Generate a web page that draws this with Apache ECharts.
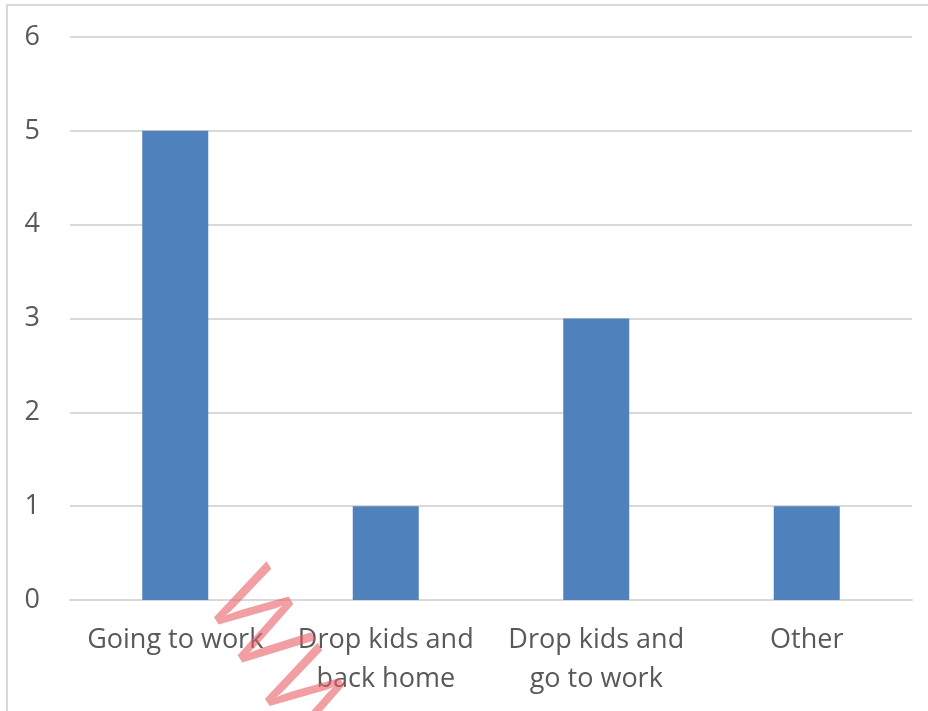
<!DOCTYPE html>
<html>
<head>
<meta charset="utf-8">
<script src="https://cdn.jsdelivr.net/npm/echarts@6/dist/echarts.min.js"></script>
<style>
  html, body { margin: 0; padding: 0; background: #fff; }
  #chart { width: 928px; height: 711px; }
</style>
</head>
<body>
<div id="chart"></div>
<script>
var categories = ["Going to work", "Drop kids and\nback home", "Drop kids and\ngo to work", "Other"];
var counts = [5, 1, 3, 1];
var yTicks = [0, 1, 2, 3, 4, 5, 6];

var myChart = echarts.init(document.getElementById("chart"));
var labelFont = "'Open Sans', 'Noto Sans', sans-serif";

var option = {
  backgroundColor: "#ffffff",
  animation: false,
  grid: { left: 70, right: 16, top: 37, bottom: 111, containLabel: false },
  xAxis: {
    type: "category",
    data: categories,
    axisLine: { show: true, lineStyle: { color: "#d9d9d9", width: 2 } },
    axisTick: { show: false },
    axisLabel: {
      color: "#595959",
      fontSize: 27,
      fontFamily: labelFont,
      margin: 21,
      lineHeight: 39,
      interval: 0
    }
  },
  yAxis: {
    type: "value",
    min: yTicks[0],
    max: yTicks[yTicks.length - 1],
    interval: 1,
    axisLine: { show: false },
    axisTick: { show: false },
    splitLine: { lineStyle: { color: "#d9d9d9", width: 2 } },
    axisLabel: {
      color: "#595959",
      fontSize: 27,
      fontFamily: labelFont,
      margin: 30
    }
  },
  series: [
    {
      type: "bar",
      data: counts,
      barWidth: 66,
      itemStyle: { color: "#4f81bd" }
    }
  ],
  graphic: [
    {
      type: "rect",
      shape: { x: 7, y: 5, width: 940, height: 720 },
      style: { fill: "none", stroke: "#d9d9d9", lineWidth: 2 },
      z: -1
    },
    {
      // watermark
      type: "text",
      x: 272,
      y: 556,
      rotation: -58 * Math.PI / 180,
      style: {
        text: "WWW",
        font: "normal 104px 'Open Sans', sans-serif",
        fill: "rgba(232, 95, 100, 0.6)"
      },
      z: 10
    }
  ]
};
myChart.setOption(option);
</script>
</body>
</html>
